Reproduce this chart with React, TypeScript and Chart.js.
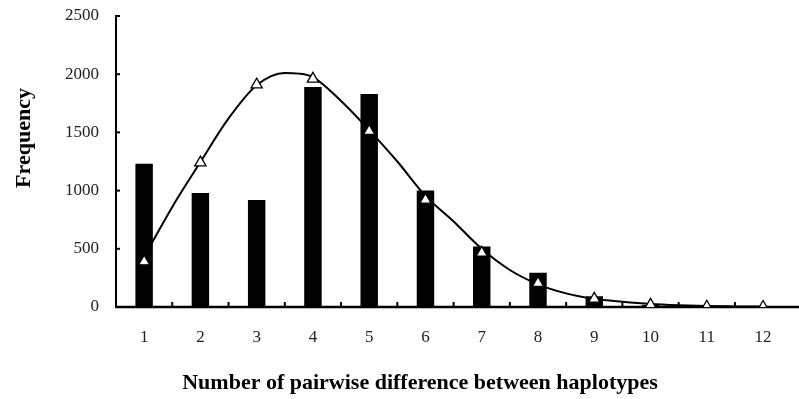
import React, { useEffect, useRef } from "react";
import { Chart, registerables } from "chart.js";

Chart.register(...registerables);

const categories = ["1", "2", "3", "4", "5", "6", "7", "8", "9", "10", "11", "12"];
const observed = [1230, 980, 920, 1890, 1830, 1000, 520, 295, 92, 18, 0, 0];
const expected = [390, 1240, 1910, 1960, 1510, 920, 465, 205, 70, 18, 2, 0];
const curveX = [1, 1.5, 2, 2.5, 3, 3.5, 3.75, 4, 4.5, 5, 5.5, 6, 6.5, 7, 7.5, 8, 8.5, 9, 9.5, 10, 10.5, 11, 11.5, 12];
const curveY = [430, 860, 1245, 1620, 1905, 2010, 2005, 1975, 1770, 1520, 1250, 955, 735, 500, 318, 195, 117, 70, 45, 26, 15, 8, 5, 3];
const yTicks = [0, 500, 1000, 1500, 2000, 2500];
const xTitle = "Number of pairwise difference between haplotypes";
const yTitle = "Frequency";

const FONT = "'Liberation Serif', 'Times New Roman', serif";

const axesPlugin = {
  id: "customAxes",
  beforeDatasetsDraw(chart: any) {
    const ctx = chart.ctx;
    const x = chart.scales.x;
    const y = chart.scales.y;
    const area = chart.chartArea;
    ctx.save();
    ctx.strokeStyle = "#000";
    ctx.lineCap = "butt";
    ctx.lineWidth = 2;
    ctx.beginPath();
    ctx.moveTo(area.left, y.getPixelForValue(2500) - 1);
    ctx.lineTo(area.left, y.getPixelForValue(0));
    ctx.stroke();
    yTicks.forEach((v) => {
      const py = y.getPixelForValue(v);
      ctx.beginPath();
      ctx.moveTo(area.left, py);
      ctx.lineTo(area.left + 4, py);
      ctx.stroke();
    });
    for (let i = 1; i < categories.length; i++) {
      const px = (x.getPixelForValue(i - 1) + x.getPixelForValue(i)) / 2;
      ctx.beginPath();
      ctx.moveTo(px, area.bottom);
      ctx.lineTo(px, area.bottom - 5);
      ctx.stroke();
    }
    ctx.lineWidth = 2.5;
    ctx.beginPath();
    ctx.moveTo(area.left - 1, y.getPixelForValue(0));
    ctx.lineTo(chart.width, y.getPixelForValue(0));
    ctx.stroke();
    ctx.restore();
  },
  afterDraw(chart: any) {
    const ctx = chart.ctx;
    ctx.save();
    ctx.fillStyle = "#000";
    ctx.font = "bold 22px " + FONT;
    ctx.textAlign = "center";
    ctx.textBaseline = "alphabetic";
    ctx.fillText(xTitle, 420, 389);
    ctx.translate(30, 138);
    ctx.rotate(-Math.PI / 2);
    ctx.fillText(yTitle, 0, 0);
    ctx.restore();
  },
};

export default function App() {
  const ref = useRef<HTMLCanvasElement>(null);
  useEffect(() => {
    if (!ref.current) return;
    const chart = new Chart(ref.current, {
      type: "bar",
      data: {
        labels: categories,
        datasets: [
          {
            type: "bar",
            label: "Observed",
            data: observed,
            backgroundColor: "#000",
            borderWidth: 0,
            grouped: false,
            barPercentage: 0.31,
            categoryPercentage: 1,
            order: 3,
          } as any,
          {
            type: "line",
            label: "Fitted",
            data: curveX.map((v, i) => ({ x: v, y: curveY[i] })),
            xAxisID: "x2",
            borderColor: "#000",
            borderWidth: 2,
            pointRadius: 0,
            fill: false,
            cubicInterpolationMode: "monotone",
            order: 2,
          } as any,
          {
            type: "line",
            label: "Expected",
            data: expected,
            showLine: false,
            pointStyle: "triangle",
            pointRadius: 6.5,
            pointBackgroundColor: "#fff",
            pointBorderColor: "#000",
            pointBorderWidth: 1.3,
            order: 1,
          } as any,
        ],
      },
      options: {
        responsive: false,
        animation: false,
        layout: { padding: { top: 16, left: 0, right: 0, bottom: 0 } },
        plugins: {
          legend: { display: false },
          tooltip: { enabled: false },
          title: { display: false },
        },
        scales: {
          x: {
            type: "category",
            offset: true,
            grid: { display: false, drawTicks: false },
            border: { display: false },
            ticks: {
              font: { family: FONT, size: 17 },
              color: "#222",
              padding: 20,
              maxRotation: 0,
              autoSkip: false,
            },
            afterFit: (s: any) => {
              s.height = 92;
              s.paddingLeft = 0;
              s.paddingRight = 0;
            },
          },
          x2: {
            type: "linear",
            position: "bottom",
            offset: false,
            min: 0.5,
            max: 12.5,
            display: true,
            grid: { display: false, drawTicks: false },
            border: { display: false },
            ticks: { display: false },
            afterFit: (s: any) => {
              s.height = 0;
              s.paddingLeft = 0;
              s.paddingRight = 0;
            },
          },
          y: {
            min: 0,
            max: 2500,
            grid: { display: false, drawTicks: false },
            border: { display: false },
            ticks: {
              stepSize: 500,
              font: { family: FONT, size: 17 },
              color: "#222",
              padding: 17,
              callback: (v: any) => String(v),
            },
            afterFit: (s: any) => {
              s.width = 116;
              s.paddingTop = 0;
              s.paddingBottom = 0;
            },
          },
        },
      } as any,
      plugins: [axesPlugin],
    });
    return () => chart.destroy();
  }, []);
  return (
    <div style={{ position: "absolute", left: 0, top: 0, width: 799, height: 399, background: "#fff" }}>
      <canvas ref={ref} width={799} height={399} />
    </div>
  );
}
